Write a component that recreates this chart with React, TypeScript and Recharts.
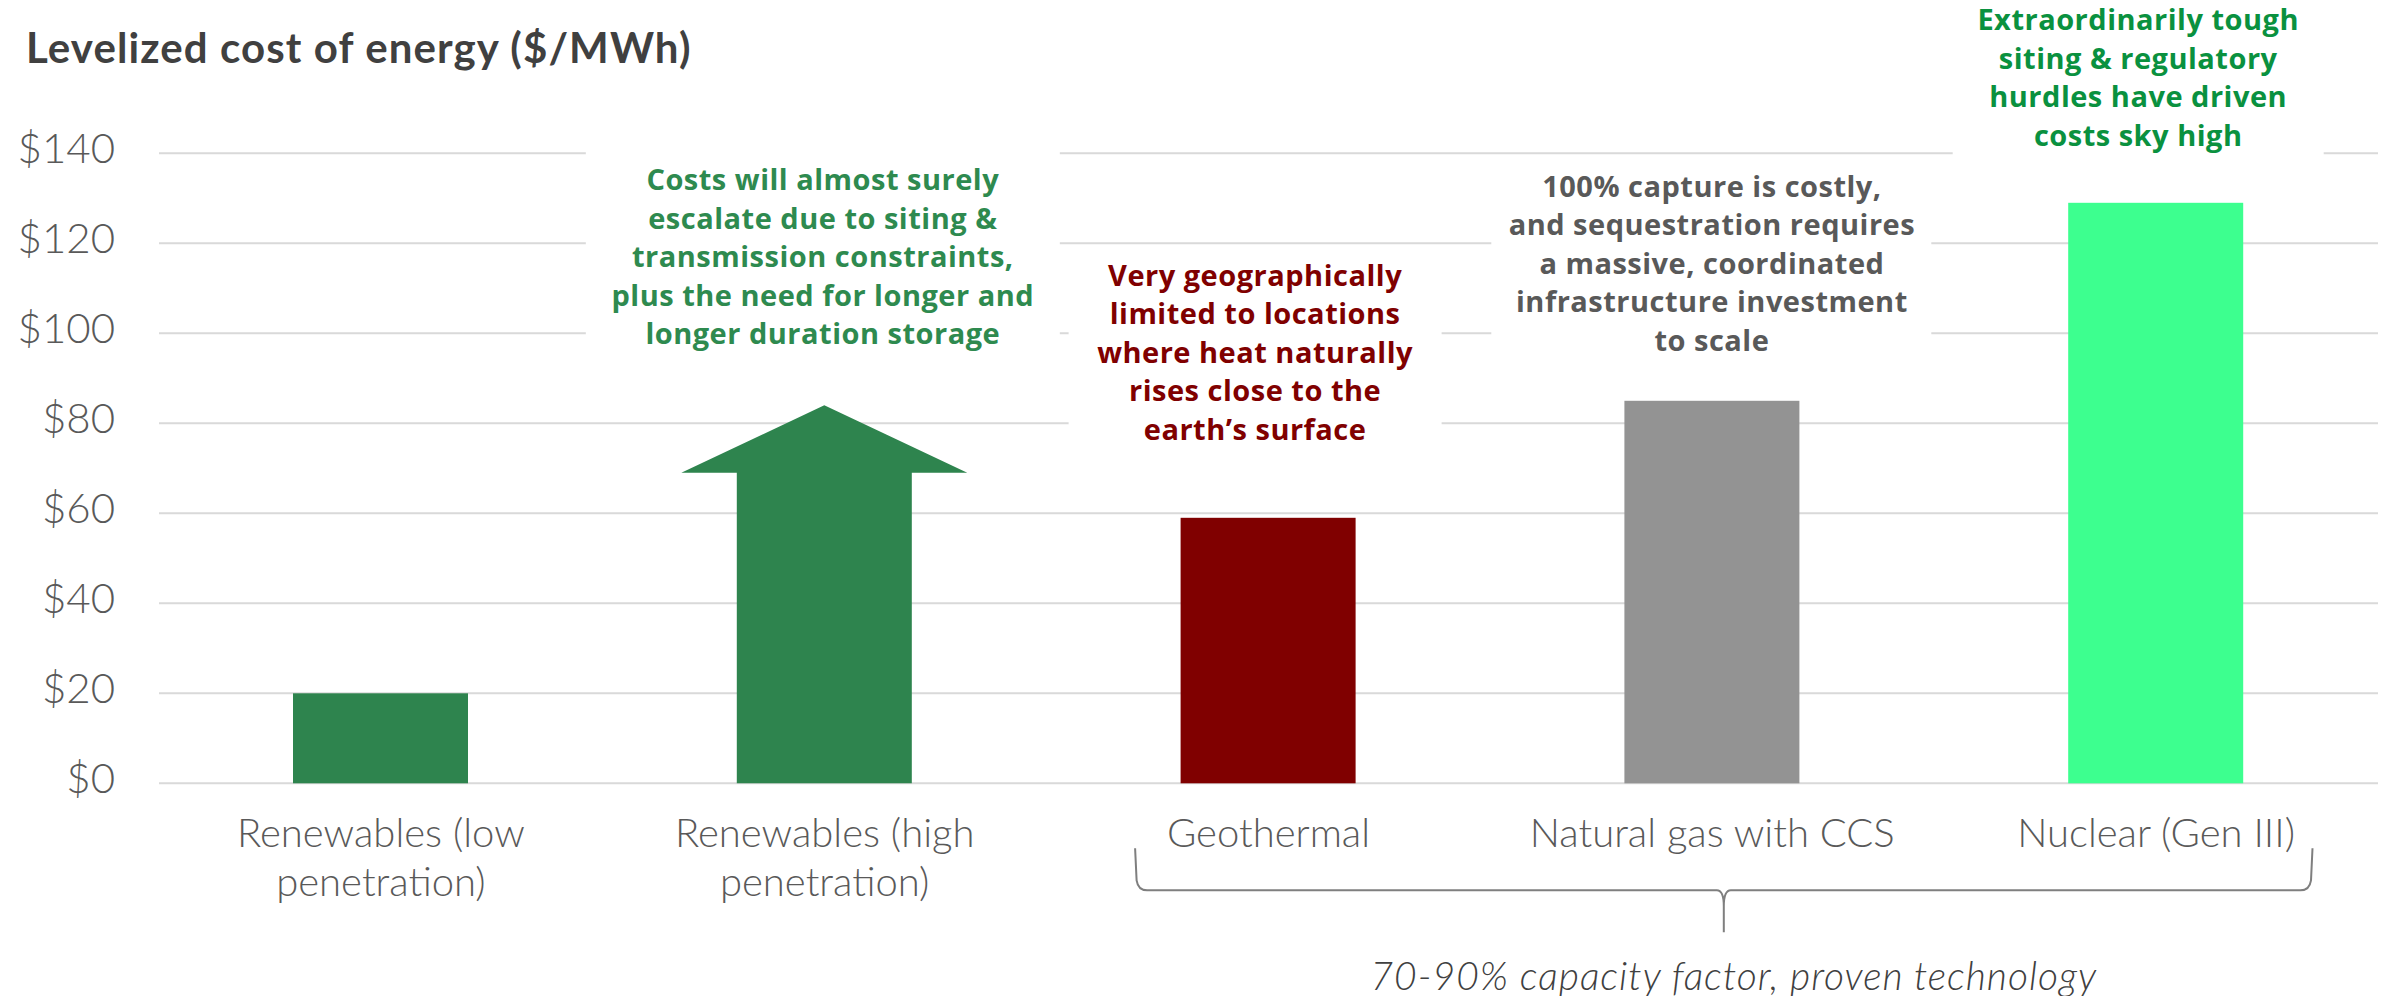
import React from 'react';
import { BarChart, Bar, XAxis, YAxis, CartesianGrid, Cell, LabelList, ReferenceArea } from 'recharts';

const title = 'Levelized cost of energy ($/MWh)';
const categories = [
  'Renewables (low penetration)',
  'Renewables (high penetration)',
  'Geothermal',
  'Natural gas with CCS',
  'Nuclear (Gen III)',
];
const categoryLines = [
  ['Renewables (low', 'penetration)'],
  ['Renewables (high', 'penetration)'],
  ['Geothermal'],
  ['Natural gas with CCS'],
  ['Nuclear (Gen III)'],
];
const costs = [20, 84, 59, 85, 129];
const arrowBaseCost = 69;
const yTicks = [0, 20, 40, 60, 80, 100, 120, 140];
const annotationLines = [
  [],
  ['Costs will almost surely', 'escalate due to siting &', 'transmission constraints,', 'plus the need for longer and', 'longer duration storage'],
  ['Very geographically', 'limited to locations', 'where heat naturally', 'rises close to the', 'earth\u2019s surface'],
  ['100% capture is costly,', 'and sequestration requires', 'a massive, coordinated', 'infrastructure investment', 'to scale'],
  ['Extraordinarily tough', 'siting & regulatory', 'hurdles have driven', 'costs sky high'],
];
const groupNote = '70-90% capacity factor, proven technology';

const barColors = ['#2E844E', '#2E844E', '#800000', '#939393', '#3DFF8F'];
const annotationColors = ['#000000', '#2E8A4F', '#800000', '#595959', '#0A913F'];

const FONT = "Lato, 'Open Sans', sans-serif";
const BOLD_FONT = "'Open Sans', 'Noto Sans', sans-serif";

const data = categories.map((name, i) => ({ name, cost: costs[i] }));

// layout of annotation blocks relative to bar centre / bar top (pixels)
const annotationLayout: any[] = [
  null,
  { dx: -1.5, first: -215.3, boxL: -238.5, boxR: 235.5, boxT: -264.6, boxB: -34.6 },
  { dx: -13, first: -232.3, boxL: -199.5, boxR: 173.5, boxT: -264, boxB: -54 },
  { dx: 0, first: -204.3, boxL: -220.6, boxR: 219.4, boxT: -237.3, boxB: -22.3 },
  { dx: -17.5, first: -172.6, boxL: -203, boxR: 168, boxT: -214, boxB: -29.3 },
];

function CostShape(props: any) {
  const { x, y, width, height, index } = props;
  const fill = barColors[index];
  if (index !== 1) {
    return <rect x={x} y={y} width={width} height={height} fill={fill} />;
  }
  const bottom = y + height;
  const pxPerUnit = height / costs[index];
  const shoulderY = bottom - arrowBaseCost * pxPerUnit;
  const cx = x + width / 2;
  const headHalf = width * 0.817;
  const d = `M${x},${bottom} L${x},${shoulderY} L${cx - headHalf},${shoulderY} L${cx},${y} L${cx + headHalf},${shoulderY} L${x + width},${shoulderY} L${x + width},${bottom} Z`;
  return <path d={d} fill={fill} />;
}

function Annotation(props: any) {
  const vb = props.viewBox && props.viewBox.x != null ? props.viewBox : props;
  const { x, y, width } = vb;
  const index = props.index;
  const lay = annotationLayout[index];
  const lines = annotationLines[index];
  if (!lay || !lines || !lines.length) return null;
  const cx = x + width / 2;
  return (
    <g>
      <rect x={cx + lay.boxL} y={y + lay.boxT} width={lay.boxR - lay.boxL} height={lay.boxB - lay.boxT} fill="#FFFFFF" />
      {lines.map((l: string, i: number) => (
        <text
          key={i}
          x={cx + lay.dx}
          y={y + lay.first + i * 38.5}
          textAnchor="middle"
          fontFamily={BOLD_FONT}
          fontSize={29}
          fontWeight={700}
          letterSpacing={0.5}
          fill={annotationColors[index]}
        >
          {l}
        </text>
      ))}
    </g>
  );
}

function CategoryTick(props: any) {
  const { x, y, payload } = props;
  const idx = categories.indexOf(payload.value);
  const lines = categoryLines[idx] || [payload.value];
  return (
    <g>
      {lines.map((l, i) => (
        <text key={i} x={x} y={y + 64 + i * 49} textAnchor="middle" fontFamily={FONT} fontSize={40} fontWeight={300} fill="#595959">
          {l}
        </text>
      ))}
    </g>
  );
}

function CostTick(props: any) {
  const { x, y, payload } = props;
  return (
    <text x={x} y={y} dy={10} textAnchor="end" fontFamily={FONT} fontSize={42} fontWeight={300} fill="#595959">
      {'$' + payload.value}
    </text>
  );
}

function GroupBracket(props: any) {
  const { x, y, width, height } = props;
  const base = y + height;
  const left = x + 88.5;
  const right = x + width - 65.5;
  const mid = (left + right) / 2;
  const top = base + 65;
  const line = base + 107;
  const tip = base + 149;
  const d = [
    `M${left},${top}`,
    `L${left + 1.5},${line - 10}`,
    `Q${left + 3},${line} ${left + 12},${line}`,
    `L${mid - 7},${line}`,
    `Q${mid},${line} ${mid},${line + 16}`,
    `L${mid},${tip}`,
    `M${mid},${line + 16}`,
    `Q${mid},${line} ${mid + 7},${line}`,
    `L${right - 12},${line}`,
    `Q${right - 3},${line} ${right - 1.5},${line - 10}`,
    `L${right},${top}`,
  ].join(' ');
  return (
    <g>
      <path d={d} fill="none" stroke="#7F7F7F" strokeWidth={2} />
      <text x={mid + 10} y={base + 207} textAnchor="middle" fontFamily={FONT} fontSize={39} fontStyle="italic" fontWeight={300} letterSpacing={1} fill="#404040">
        {groupNote}
      </text>
    </g>
  );
}

export default function App() {
  return (
    <div style={{ position: 'absolute', left: 0, top: 0, width: 2392, height: 996, background: '#FFFFFF' }}>
      <BarChart
        width={2392}
        height={996}
        data={data}
        margin={{ top: 153.3, right: 14, bottom: 12.7, left: 19 }}
        barSize={175}
      >
        <CartesianGrid vertical={false} stroke="#D9D9D9" strokeWidth={2} />
        <XAxis
          dataKey="name"
          type="category"
          axisLine={false}
          tickLine={false}
          tickSize={0}
          tickMargin={0}
          height={200}
          interval={0}
          tick={<CategoryTick />}
        />
        <YAxis
          type="number"
          domain={[0, 140]}
          ticks={yTicks}
          axisLine={false}
          tickLine={false}
          tickSize={0}
          tickMargin={44}
          width={140}
          tick={<CostTick />}
        />
        <ReferenceArea x1={categories[2]} x2={categories[4]} ifOverflow="visible" shape={<GroupBracket />} />
        <Bar dataKey="cost" isAnimationActive={false} shape={<CostShape />}>
          {data.map((d, i) => (
            <Cell key={d.name} fill={barColors[i]} />
          ))}
          <LabelList dataKey="cost" content={<Annotation />} />
        </Bar>
      </BarChart>
      <svg style={{ position: 'absolute', left: 0, top: 0 }} width={2392} height={100}>
        <text x={26} y={63} fontFamily={FONT} fontSize={42} fontWeight={700} letterSpacing={1.1} fill="#404040">
          {title}
        </text>
      </svg>
    </div>
  );
}
